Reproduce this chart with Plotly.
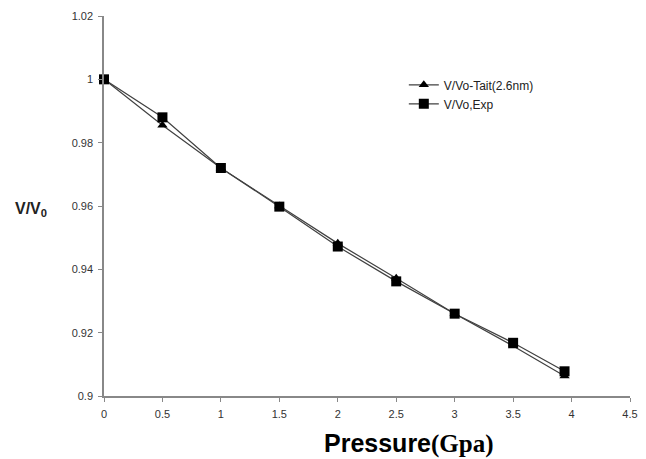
import plotly.graph_objects as go

pressure = [0, 0.5, 1, 1.5, 2, 2.5, 3, 3.5, 3.94]
v_tait = [1.0, 0.9855, 0.972, 0.9600, 0.9482, 0.9372, 0.926, 0.9158, 0.9063]
v_exp = [1.0, 0.988, 0.972, 0.9598, 0.9472, 0.9362, 0.926, 0.9168, 0.9078]

x_ticks = [0, 0.5, 1, 1.5, 2, 2.5, 3, 3.5, 4, 4.5]
y_ticks = [0.9, 0.92, 0.94, 0.96, 0.98, 1.0, 1.02]

fig = go.Figure()
fig.add_trace(go.Scatter(
    x=pressure, y=v_tait, mode="lines+markers", name="V/Vo-Tait(2.6nm)",
    line=dict(color="#404040", width=1.2),
    marker=dict(symbol="triangle-up", size=9, color="black"),
    cliponaxis=False,
))
fig.add_trace(go.Scatter(
    x=pressure, y=v_exp, mode="lines+markers", name="V/Vo,Exp",
    line=dict(color="#404040", width=1.2),
    marker=dict(symbol="square", size=10, color="black"),
    cliponaxis=False,
))

axis_common = dict(
    showgrid=False, zeroline=False, showline=True, linecolor="#888888", linewidth=1.5,
    ticks="outside", ticklen=4, tickcolor="#888888", ticklabelstandoff=3,
    tickfont=dict(family="Liberation Sans, Arial", size=11, color="#333333"),
)

fig.update_layout(
    width=646, height=459,
    margin=dict(l=104, r=16, t=16, b=63, autoexpand=False),
    paper_bgcolor="white", plot_bgcolor="white",
    showlegend=True,
    legend=dict(x=0.57, y=0.857, xanchor="left", yanchor="top",
                font=dict(family="Liberation Sans, Arial", size=12, color="#222222"),
                bgcolor="rgba(0,0,0,0)", itemwidth=30, tracegroupgap=3),
    xaxis=dict(range=[0, 4.5], tickvals=x_ticks, **axis_common),
    yaxis=dict(range=[0.9, 1.02], tickvals=y_ticks, **axis_common),
)

fig.add_annotation(
    xref="paper", yref="paper", x=0.58, y=-0.124, yanchor="middle", xanchor="center",
    showarrow=False,
    text='<b>Pressure<span style="font-family:Liberation Serif, Times New Roman">(Gpa)</span></b>',
    font=dict(family="Liberation Sans, Arial", size=25, color="black"),
)
fig.add_annotation(
    xref="paper", yref="paper", x=-0.139, y=0.49, xanchor="center", yanchor="middle",
    showarrow=False,
    text="<b>V/V<sub>0</sub></b>",
    font=dict(family="Liberation Sans, Arial", size=16, color="#222222"),
)

fig.write_html("out.html", config={"displayModeBar": False},
               post_script="document.body.style.margin='0';")
